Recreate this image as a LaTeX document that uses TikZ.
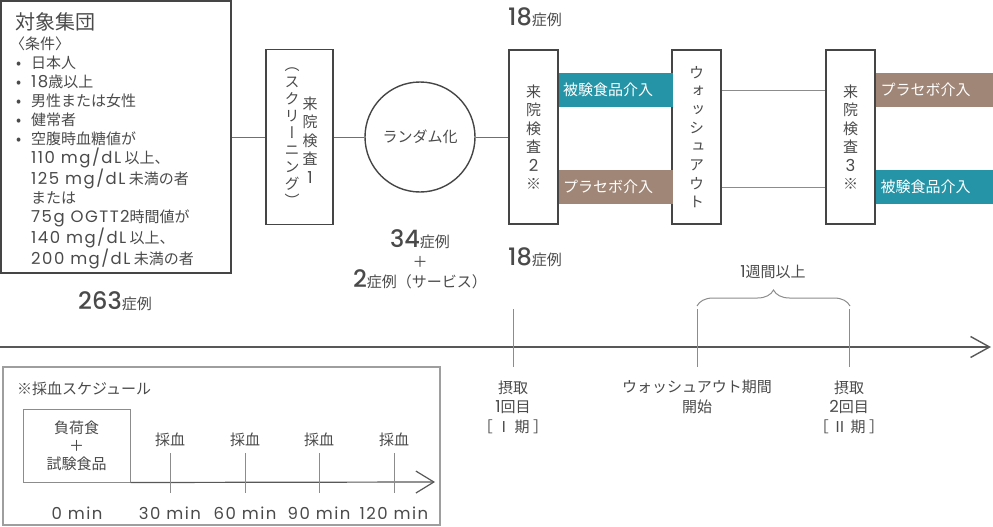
\documentclass[tikz,border=0pt]{standalone}
\usepackage{fontspec}
\setmainfont{Noto Sans CJK JP}
\newfontfamily\tatefont{Noto Sans CJK JP}[RawFeature=+vert]
\IfFontExistsTF{Poppins Medium}{\newfontfamily\numfont{Poppins Medium}}{\newfontfamily\numfont{Poppins}}
\newfontfamily\latfont{Poppins}[LetterSpace=9]
\usetikzlibrary{arrows.meta,decorations.pathreplacing}
\definecolor{txtgray}{HTML}{4A4A4A}
\definecolor{boxgray}{HTML}{454545}
\definecolor{linegray}{HTML}{8C8C8C}
\definecolor{framegray}{HTML}{9E9E9E}
\definecolor{testteal}{HTML}{2494A6}
\definecolor{placebobrown}{HTML}{A08676}
\newcommand{\bignum}[1]{{\numfont\fontsize{24}{22}\selectfont #1}}
\newcommand{\lat}[1]{{\latfont\fontsize{16.5}{19}\selectfont #1}}

\begin{document}
\begin{tikzpicture}[x=1pt,y=-1pt]
      \tikzstyle{every node}=[text=txtgray,inner sep=0pt,font=\fontsize{15}{19}\selectfont]
      \tikzstyle{visit}=[draw=boxgray,line width=1.8pt,minimum width=49pt,minimum height=174pt,align=center,font=\tatefont\fontsize{15}{18.5}\selectfont]
      \tikzstyle{bar}=[minimum height=34pt,text width=106pt,inner xsep=4pt,align=left,text=white,anchor=west]
      \tikzstyle{conn}=[draw=linegray!80!black,line width=1pt]
      \tikzstyle{tick}=[draw=linegray,line width=1pt]
      \tikzstyle{axis}=[draw=boxgray!90,line width=1.4pt]
      \useasboundingbox (0,0) rectangle (993,527);

      \node[draw=boxgray,line width=1.8pt,minimum width=230pt,minimum height=272pt] (group) at (116,137) {};
      \node[anchor=base west,font=\fontsize{20}{20}\selectfont] (grouptitle) at (15,30) {対象集団};
      \node[anchor=north west,align=left] (cond) at (10,37) {〈条件〉\\
        \makebox[21pt][l]{\hspace{6pt}•}日本人\\
        \makebox[21pt][l]{\hspace{6pt}•}\lat{18}歳以上\\
        \makebox[21pt][l]{\hspace{6pt}•}男性または女性\\
        \makebox[21pt][l]{\hspace{6pt}•}健常者\\
        \makebox[21pt][l]{\hspace{6pt}•}空腹時血糖値が\\
        \hspace*{21pt}\lat{110 mg/dL} 以上、\\
        \hspace*{21pt}\lat{125 mg/dL} 未満の者\\
        \hspace*{21pt}または\\
        \hspace*{21pt}\lat{75g OGTT2}時間値が\\
        \hspace*{21pt}\lat{140 mg/dL} 以上、\\
        \hspace*{21pt}\lat{200 mg/dL} 未満の者};

      \node[visit,minimum width=67pt,minimum height=175pt] (visit1) at (299.5,137) {};
      \node[align=center,font=\tatefont\fontsize{15}{18.5}\selectfont] (visit1a) at (310,140) {来\\院\\検\\査\\\lat{1}};
      \node[align=center,font=\tatefont\fontsize{15}{17}\selectfont] (visit1b) at (292,137) {（\\ス\\ク\\リ\\ー\\ニ\\ン\\グ\\）};
      \node[circle,draw=boxgray,line width=1.4pt,minimum size=110pt] (random) at (420,137) {ランダム化};
      \node[visit] (visit2) at (533.5,137) {来\\院\\検\\査\\\lat{2}\\※};
      \node[visit] (washout) at (696.5,137) {ウ\\ォ\\ッ\\シ\\ュ\\ア\\ウ\\ト};
      \node[visit] (visit3) at (850.5,137) {来\\院\\検\\査\\\lat{3}\\※};

      \node[bar,fill=testteal] (test1) at (559,90) {被験食品介入};
      \node[bar,fill=placebobrown] (placebo1) at (559,187) {プラセボ介入};
      \node[bar,fill=placebobrown,text width=108pt,inner xsep=5pt] (placebo2) at (875.5,90) {プラセボ介入};
      \node[bar,fill=testteal,text width=108pt,inner xsep=5pt] (test2) at (875.5,187) {被験食品介入};

      \draw[conn] (group.east) -- (visit1.west);
      \draw[conn] (visit1) -- (random);
      \draw[conn] (random) -- (visit2);
      \draw[tick] (washout.east |- test1) -- (visit3.west |- test1);
      \draw[tick] (washout.east |- placebo1) -- (visit3.west |- placebo1);

      \node (n18a) at (535,17) {\bignum{18}症例};
      \node (n18b) at (535,257) {\bignum{18}症例};
      \node[align=center] (n34) at (420,259) {\bignum{34}症例\\[1pt]＋\\[1pt]\bignum{2}症例（サービス）};
      \node (n263) at (115,301) {\bignum{263}症例};
      \node (week) at (773,272) {\lat{1}週間以上};
      \draw[linegray,line width=1pt,decorate,decoration={brace,amplitude=16pt}] (697,306) -- (850,306);

      \coordinate (tstart) at (0,347);
      \coordinate (tend) at (991,347);
      \draw[axis,-{Straight Barb[length=19pt,width=21pt]}] (tstart) -- (tend);
      \foreach \x in {513,697,849}
        \draw[tick] (\x,309) -- (\x,367);
      \node[align=center,font=\fontsize{15}{19.5}\selectfont] (intake1) at (513,407) {摂取\\\lat{1}回目\\［ Ⅰ 期 ］};
      \node[align=center,font=\fontsize{15}{19.5}\selectfont] (washstart) at (697,397) {ウォッシュアウト期間\\開始};
      \node[align=center,font=\fontsize{15}{19.5}\selectfont] (intake2) at (849,407) {摂取\\\lat{2}回目\\［ Ⅱ 期 ］};

      \draw[framegray,line width=1.2pt] (3,367) rectangle (440,525);
      \node[anchor=west] (schedtitle) at (17,389) {※採血スケジュール};
      \node[draw=linegray,line width=1pt,minimum width=107pt,minimum height=73pt,align=center,font=\fontsize{15}{18}\selectfont] (meal) at (76.5,445.5) {負荷食\\＋\\試験食品};
      \coordinate (send) at (435,482);
      \draw[axis,line width=1.2pt,-{Straight Barb[length=18pt,width=22pt]}] (meal.south east) -- (send);
      \node (min0) at (77,513) {\lat{0 min}};
      \foreach \x/\t in {170/30,245/60,319/90,394/120} {
        \draw[tick] (\x,453) -- (\x,493);
        \node (blood\t) at (\x,440) {採血};
        \node (min\t) at (\x,513) {\lat{\t\ min}};
      }
\end{tikzpicture}
\end{document}
